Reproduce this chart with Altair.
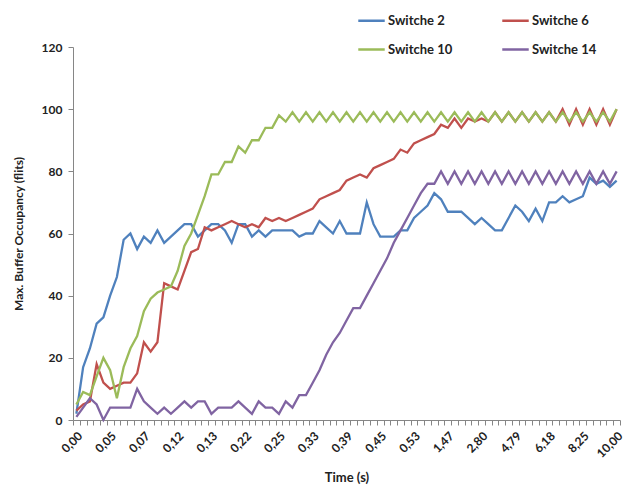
import json
import altair as alt
import pandas as pd

# ---------------- data ----------------
x_labels = ["0,00", "0,05", "0,07", "0,12", "0,13", "0,22", "0,25", "0,33", "0,39",
            "0,45", "0,53", "1,47", "2,80", "4,79", "6,18", "8,25", "10,00"]
label_step = 5

series_names = ["Switche 2", "Switche 6", "Switche 10", "Switche 14"]
series_colors = ["#4F81BD", "#C0504D", "#9BBB59", "#8064A2"]
# legend fills column by column: column 1 = Switche 2 / Switche 10, column 2 = Switche 6 / Switche 14
legend_order = ["Switche 2", "Switche 10", "Switche 6", "Switche 14"]

switche_2 = [2, 17, 23, 31, 33, 40, 46, 58, 60, 55,
             59, 57, 61, 57, 59, 61, 63, 63, 59, 61,
             63, 63, 61, 57, 63, 63, 59, 61, 59, 61,
             61, 61, 61, 59, 60, 60, 64, 62, 60, 64,
             60, 60, 60, 70, 63, 59, 59, 59, 61, 61,
             65, 67, 69, 73, 71, 67, 67, 67, 65, 63,
             65, 63, 61, 61, 65, 69, 67, 64, 68, 64,
             70, 70, 72, 70, 71, 72, 78, 76, 77, 75,
             77]
switche_6 = [3, 5, 6, 18, 12, 10, 11, 12, 12, 15,
             25, 22, 25, 44, 43, 42, 48, 54, 55, 62,
             61, 62, 63, 64, 63, 62, 63, 62, 65, 64,
             65, 64, 65, 66, 67, 68, 71, 72, 73, 74,
             77, 78, 79, 78, 81, 82, 83, 84, 87, 86,
             89, 90, 91, 92, 95, 94, 97, 94, 97, 96,
             97, 96, 99, 96, 99, 96, 99, 96, 99, 96,
             99, 96, 100, 95, 100, 95, 100, 95, 100, 95,
             100]
switche_10 = [5, 9, 8, 14, 20, 16, 7, 17, 23, 27,
              35, 39, 41, 42, 43, 48, 56, 60, 66, 72,
              79, 79, 83, 83, 88, 86, 90, 90, 94, 94,
              98, 96, 99, 96, 99, 96, 99, 96, 99, 96,
              99, 96, 99, 96, 99, 96, 99, 96, 99, 96,
              99, 96, 99, 96, 99, 96, 99, 96, 99, 96,
              99, 96, 99, 96, 99, 96, 99, 96, 99, 96,
              99, 96, 99, 96, 99, 96, 99, 96, 99, 96,
              100]
switche_14 = [1, 4, 7, 5, 0, 4, 4, 4, 4, 10,
              6, 4, 2, 4, 2, 4, 6, 4, 6, 6,
              2, 4, 4, 4, 6, 4, 2, 6, 4, 4,
              2, 6, 4, 8, 8, 12, 16, 21, 25, 28,
              32, 36, 36, 40, 44, 48, 52, 57, 61, 65,
              69, 73, 76, 76, 80, 76, 80, 76, 80, 76,
              80, 76, 80, 76, 80, 76, 80, 76, 80, 76,
              80, 76, 80, 76, 80, 76, 80, 76, 80, 76,
              80]

y_ticks = [0, 20, 40, 60, 80, 100, 120]

# ---------------- table ----------------
rows = []
for name, vals in zip(series_names, [switche_2, switche_6, switche_10, switche_14]):
    for i, v in enumerate(vals):
        rows.append({"idx": i, "series": name, "value": v})
df = pd.DataFrame(rows)

color_of = dict(zip(series_names, series_colors))

FONT = "Lato"
label_js = json.dumps(x_labels)

x_enc = alt.X(
    "idx:O",
    scale=alt.Scale(type="band", paddingInner=0, paddingOuter=0),
    axis=alt.Axis(
        title="Time (s)",
        tickBand="extent",
        labelAngle=-45,
        labelExpr=f"datum.value % {label_step} === 0 ? {label_js}[datum.value / {label_step}] : ''",
        labelOverlap=False,
        labelFont=FONT, labelFontSize=12, labelFontWeight="bold", labelColor="#222222",
        labelPadding=5,
        tickSize=5, tickColor="#868686",
        domainColor="#868686",
        titleFont=FONT, titleFontSize=13, titleFontWeight="bold", titleColor="#222222",
        titlePadding=12,
        grid=False,
    ),
)
y_enc = alt.Y(
    "value:Q",
    scale=alt.Scale(domain=[0, 120], nice=False, zero=True),
    axis=alt.Axis(
        title="Max. Buffer Occupancy (flits)",
        values=y_ticks,
        grid=False,
        labelFont=FONT, labelFontSize=12, labelFontWeight="bold", labelColor="#222222",
        labelPadding=6,
        tickSize=5, tickColor="#868686",
        domainColor="#868686",
        titleFont=FONT, titleFontSize=12, titleFontWeight="bold", titleColor="#222222",
        titlePadding=16,
    ),
)
color_enc = alt.Color(
    "series:N",
    scale=alt.Scale(domain=legend_order, range=[color_of[n] for n in legend_order]),
    legend=alt.Legend(
        title=None,
        orient="none",
        legendX=284,
        legendY=-41,
        columns=2,
        symbolType="stroke",
        symbolSize=700,
        symbolStrokeWidth=2.5,
        labelFont=FONT,
        labelFontSize=13,
        labelFontWeight="bold",
        labelColor="#222222",
        labelOffset=2,
        columnPadding=44,
        rowPadding=7,
        padding=0,
    ),
)

layers = []
for name in series_names:
    layers.append(
        alt.Chart(df)
        .transform_filter(alt.datum.series == name)
        .mark_line(strokeWidth=2.3)
        .encode(x=x_enc, y=y_enc, color=color_enc)
    )

chart = (
    alt.layer(*layers)
    .properties(
        width=547,
        height=373,
        autosize=alt.AutoSizeParams(type="none"),
        padding={"left": 73, "top": 47, "right": 7, "bottom": 66},
        background="white",
    )
    .configure_view(stroke=None)
)

chart.save("out.html", embed_options={"renderer": "svg", "actions": False})
